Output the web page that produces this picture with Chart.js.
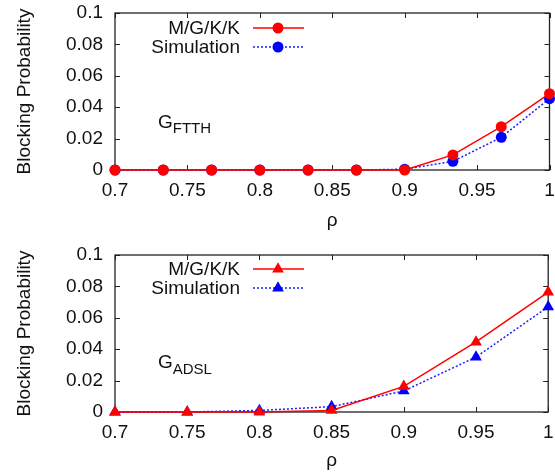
<!DOCTYPE html>
<html>
<head>
<meta charset="utf-8">
<script src="https://cdn.jsdelivr.net/npm/chart.js@4.4.1/dist/chart.umd.min.js"></script>
<style>
  html, body { margin: 0; padding: 0; background: #fff; }
  #wrap { position: relative; width: 555px; height: 472px; }
  .box { position: absolute; left: 0; width: 555px; height: 236px; }
</style>
</head>
<body>
<div id="wrap">
  <div class="box" style="top:0"><canvas id="ftth" width="555" height="236"></canvas></div>
  <div class="box" style="top:236px"><canvas id="adsl" width="555" height="236"></canvas></div>
</div>
<script>
// FTTH panel (step 1/30 in rho)
var rhoFtth = [0.7, 0.7333, 0.7667, 0.8, 0.8333, 0.8667, 0.9, 0.9333, 0.9667, 1.0];
var ftthModel = [0, 0, 0, 0, 0, 0, 0, 0.0096, 0.0276, 0.0486];
var ftthSim = [0, 0, 0, 0, 0, 0, 0.0005, 0.0055, 0.0208, 0.0454];

// ADSL panel
var rhoAdsl = [0.7, 0.75, 0.8, 0.85, 0.9, 0.95, 1.0];
var adslModel = [0, 0, 0, 0.001, 0.0163, 0.0446, 0.0764];
var adslSim = [0, 0, 0.001, 0.0034, 0.0134, 0.035, 0.067];

var seriesNames = ['M/G/K/K', 'Simulation'];
var xTitle = 'ρ';
var yTitle = 'Blocking Probability';

var FONT = "'Liberation Sans', Arial, Helvetica, sans-serif";
var FS = 19;
Chart.defaults.font.family = FONT;
Chart.defaults.color = '#111';

function pts(xs, ys) {
    return xs.map(function(x, i) { return {x: x, y: ys[i]}; });
}

function fmt(v) {
    return String(Number(v.toFixed(4)));
}

// gnuplot-like box with inward ticks on all four sides
var framePlugin = {
    id: 'frame',
    beforeDatasetsDraw: function(chart) {
        var ctx = chart.ctx, a = chart.chartArea;
        var xs = chart.scales.x, ys = chart.scales.y;
        var tl = 5;
        ctx.save();
        ctx.strokeStyle = '#222';
        ctx.lineWidth = 1;
        ctx.beginPath();
        xs.ticks.forEach(function(t) {
            var px = Math.round(xs.getPixelForValue(t.value)) + 0.5;
            ctx.moveTo(px, a.bottom); ctx.lineTo(px, a.bottom - tl);
            ctx.moveTo(px, a.top); ctx.lineTo(px, a.top + tl);
        });
        ys.ticks.forEach(function(t) {
            var py = Math.round(ys.getPixelForValue(t.value)) + 0.5;
            ctx.moveTo(a.left, py); ctx.lineTo(a.left + tl, py);
            ctx.moveTo(a.right, py); ctx.lineTo(a.right - tl, py);
        });
        ctx.stroke();
        ctx.lineWidth = 1.3;
        ctx.strokeRect(a.left, a.top, a.right - a.left, a.bottom - a.top);
        ctx.restore();
    }
};

// legend with text on the left of the sample, plus the G_xxx label
var keyPlugin = {
    id: 'key',
    afterDraw: function(chart, args, opts) {
        var ctx = chart.ctx, a = chart.chartArea;
        ctx.save();
        ctx.font = FS + 'px ' + FONT;
        ctx.textBaseline = 'middle';
        chart.data.datasets.forEach(function(ds, i) {
            var y = opts.keyY + i * 19;
            ctx.fillStyle = '#111';
            ctx.textAlign = 'right';
            ctx.fillText(ds.label, 240, y + 1);
            ctx.strokeStyle = ds.borderColor;
            ctx.lineWidth = ds.borderWidth;
            ctx.setLineDash(ds.borderDash || []);
            ctx.beginPath();
            ctx.moveTo(253, y); ctx.lineTo(304, y);
            ctx.stroke();
            ctx.setLineDash([]);
            ctx.fillStyle = ds.pointBackgroundColor;
            Chart.helpers.drawPoint(ctx, {pointStyle: ds.pointStyle, radius: ds.pointRadius, rotation: 0, borderWidth: 0}, 278, y);
        });
        ctx.textAlign = 'left';
        ctx.textBaseline = 'alphabetic';
        ctx.fillStyle = '#111';
        ctx.font = FS + 'px ' + FONT;
        ctx.fillText('G', 158, opts.baseY);
        var gw = ctx.measureText('G').width;
        ctx.font = '15px ' + FONT;
        ctx.fillText(opts.sub, 158 + gw, opts.baseY + opts.subDy);
        ctx.restore();
    }
};

function makeChart(id, xs, model, sim, style, radius, layout) {
    var ctx = document.getElementById(id).getContext('2d');
    return new Chart(ctx, {
        type: 'line',
        data: {
            datasets: [{
                label: seriesNames[0],
                data: pts(xs, model),
                borderColor: '#ff0000',
                backgroundColor: '#ff0000',
                pointBackgroundColor: '#ff0000',
                pointBorderWidth: 0,
                borderWidth: 1.5,
                pointStyle: style,
                pointRadius: radius,
                clip: false
            }, {
                label: seriesNames[1],
                data: pts(xs, sim),
                borderColor: '#1e1eff',
                backgroundColor: '#0000ff',
                pointBackgroundColor: '#0000ff',
                pointBorderWidth: 0,
                borderWidth: 1.5,
                borderDash: [2, 2],
                pointStyle: style,
                pointRadius: radius,
                clip: false
            }]
        },
        plugins: [framePlugin, keyPlugin],
        options: {
            responsive: false,
            animation: false,
            layout: { padding: { top: layout.top, right: 5, left: 0, bottom: 0 } },
            plugins: {
                legend: { display: false },
                tooltip: { enabled: false },
                key: { baseY: layout.gY, subDy: layout.subDy, sub: layout.sub, keyY: layout.keyY }
            },
            scales: {
                x: {
                    type: 'linear',
                    min: 0.7,
                    max: 1,
                    ticks: { stepSize: 0.05, font: { size: FS }, padding: 9, maxRotation: 0, callback: fmt },
                    grid: { display: false, drawTicks: false },
                    border: { display: false },
                    title: { display: true, text: xTitle, font: { size: FS }, padding: { top: 0, bottom: layout.titlePad } },
                    afterFit: function(s) { s.height = layout.xh; s.paddingLeft = 0; s.paddingRight = 0; }
                },
                y: {
                    min: 0,
                    max: 0.1,
                    ticks: { stepSize: 0.02, font: { size: FS }, padding: 12, callback: fmt },
                    grid: { display: false, drawTicks: false },
                    border: { display: false },
                    title: { display: true, text: yTitle, font: { size: FS }, padding: { top: 13, bottom: 0 } },
                    afterFit: function(s) { s.width = 115; s.paddingTop = 0; s.paddingBottom = 0; }
                }
            }
        }
    });
}

window.onload = function() {
    makeChart('ftth', rhoFtth, ftthModel, ftthSim, 'circle', 5.5,
        { top: 13, xh: 66, titlePad: 4, gY: 128, subDy: 5, sub: 'FTTH', keyY: 28 });
    makeChart('adsl', rhoAdsl, adslModel, adslSim, 'triangle', 6.8,
        { top: 19, xh: 60, titlePad: 0, gY: 132, subDy: 6, sub: 'ADSL', keyY: 33 });
};
</script>
</body>
</html>
